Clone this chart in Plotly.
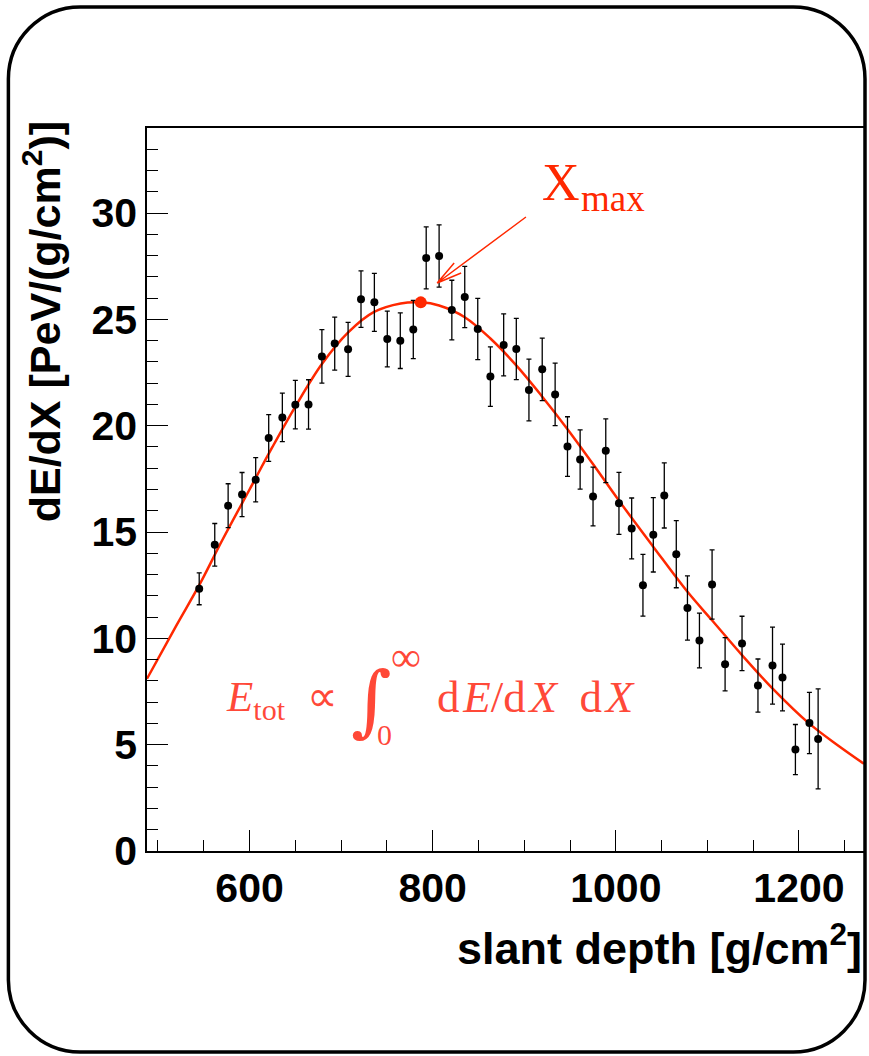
import plotly.graph_objects as go

# measured points (slant depth in g/cm2, dE/dX in PeV/(g/cm2))
depth = [545, 562, 576.6, 591.8, 606.7, 620.9, 635.8, 650, 664.4, 679,
         693, 707.6, 721.7, 736.3, 750.4, 764.6, 778.8, 792.9, 807, 820.9,
         835, 849.2, 863, 877.5, 891.3, 905.1, 919.6, 933.7, 947.2, 961,
         975.1, 989, 1003.4, 1017.3, 1029.6, 1040.9, 1052.9, 1066, 1078.2, 1091.3,
         1105.1, 1119.3, 1137.8, 1155.2, 1171.1, 1182, 1196.1, 1211.4, 1220.9]
dedx = [12.33, 14.40, 16.24, 16.76, 17.46, 19.42, 20.39, 20.99, 21.0, 23.26,
        23.86, 23.59, 25.95, 25.80, 24.08, 24.0, 24.52, 27.89, 27.98, 25.44,
        26.05, 24.55, 22.31, 23.80, 23.61, 21.68, 22.65, 21.47, 19.02, 18.41,
        16.67, 18.82, 16.35, 15.17, 12.50, 14.87, 16.72, 13.96, 11.43, 9.90,
        12.53, 8.78, 9.76, 7.78, 8.72, 8.16, 4.77, 6.02, 5.27]
dedx_err = [0.75, 1.0, 1.03, 1.04, 1.04, 1.1, 1.14, 1.14, 1.16, 1.26,
            1.25, 1.27, 1.33, 1.36, 1.31, 1.31, 1.37, 1.46, 1.46, 1.40,
            1.44, 1.44, 1.40, 1.46, 1.44, 1.45, 1.47, 1.47, 1.40, 1.39,
            1.38, 1.50, 1.46, 1.43, 1.45, 1.75, 1.53, 1.58, 1.51, 1.29,
            1.63, 1.25, 1.28, 1.25, 1.81, 1.57, 1.18, 1.44, 2.35]

# fitted profile
fit_depth = [488, 520, 545, 570, 600, 625, 650, 679, 708, 736, 765, 787,
             807, 835, 863, 891, 919, 947, 975, 1003, 1041, 1078, 1105,
             1138, 1171, 1211, 1243, 1271]
fit_dedx = [8.1, 10.6, 12.5, 14.6, 17.0, 19.0, 20.9, 22.9, 24.4, 25.35, 25.75, 25.8,
            25.65, 25.1, 24.1, 22.85, 21.4, 19.85, 18.2, 16.5, 14.3, 12.2, 10.85,
            9.2, 7.65, 6.0, 4.95, 4.1]

xmax_depth = [787]
xmax_dedx = [25.8]

RED = "#ff2800"
W, H = 869, 1056
L, R, T, B = 147, 3, 128, 205


def px(x, y):
    # pixel position on the page -> paper coordinates
    return (x - L) / (W - L - R), (H - B - y) / (H - T - B)


fig = go.Figure()

fig.add_trace(go.Scatter(
    x=fit_depth, y=fit_dedx, mode="lines",
    line=dict(color=RED, width=2.5, shape="spline", smoothing=1.0),
    hoverinfo="skip", showlegend=False,
))

fig.add_trace(go.Scatter(
    x=depth, y=dedx, mode="markers",
    marker=dict(color="black", size=8),
    error_y=dict(type="data", array=dedx_err, color="black", thickness=1.3, width=2.5),
    showlegend=False,
))

fig.add_trace(go.Scatter(
    x=xmax_depth, y=xmax_dedx, mode="markers",
    marker=dict(color=RED, size=12),
    showlegend=False,
))

# rounded border around the whole picture
x0, y0, x1, y1, r = 8, 7, 867, 1052, 72
k = 0.552 * r


def pt(x, y):
    a, b = px(x, y)
    return f"{a:.5f},{b:.5f}"


border = (
    f"M {pt(x0 + r, y0)} L {pt(x1 - r, y0)} "
    f"C {pt(x1 - r + k, y0)} {pt(x1, y0 + r - k)} {pt(x1, y0 + r)} "
    f"L {pt(x1, y1 - r)} "
    f"C {pt(x1, y1 - r + k)} {pt(x1 - r + k, y1)} {pt(x1 - r, y1)} "
    f"L {pt(x0 + r, y1)} "
    f"C {pt(x0 + r - k, y1)} {pt(x0, y1 - r + k)} {pt(x0, y1 - r)} "
    f"L {pt(x0, y0 + r)} "
    f"C {pt(x0, y0 + r - k)} {pt(x0 + r - k, y0)} {pt(x0 + r, y0)} Z"
)
fig.add_shape(type="path", xref="paper", yref="paper", path=border,
              line=dict(color="black", width=3.5))

# Xmax arrow (open head)
arrow = (f"M {pt(527, 217)} L {pt(438, 283)} "
         f"M {pt(455, 263)} L {pt(438, 283)} L {pt(462, 273)}")
fig.add_shape(type="path", xref="paper", yref="paper", path=arrow,
              line=dict(color=RED, width=1.5))

ann = []


def label(text, x, y, size, color, family, xanchor="left", yanchor="middle", angle=0):
    ax, ay = px(x, y)
    ann.append(dict(text=text, x=ax, y=ay, xref="paper", yref="paper",
                    xanchor=xanchor, yanchor=yanchor, showarrow=False,
                    textangle=angle, font=dict(size=size, color=color, family=family)))


serif = "Liberation Serif, Times New Roman, serif"
sans = "Liberation Sans, Arial, Helvetica, sans-serif"
fcol = "rgba(255,40,20,0.85)"

label("X", 541, 183, 52, RED, serif)
label("max", 580, 198, 37, RED, serif)
label("<i>E</i><sub>tot</sub>\u2002\u221d", 224, 700, 43, fcol, serif)
label("\u222b", 350, 700, 78, fcol, "DejaVu Serif")
label("\u221e", 390, 657, 42, fcol, serif)
label("0", 376, 734, 30, fcol, serif)
label("d\u200a<i>E</i>/d\u200a<i>X</i>\u2002d\u200a<i>X</i>", 436, 697, 45, fcol, serif)

label("<b>slant depth [g/cm<sup>2</sup>]</b>", 866, 945, 45, "black", sans, xanchor="right")
label("<b>dE/dX [PeV/(g/cm<sup>2</sup>)]</b>", 42, 322, 43, "black", sans,
      xanchor="center", angle=-90)

fig.update_layout(
    width=W, height=H,
    margin=dict(l=L, r=R, t=T, b=B),
    paper_bgcolor="white", plot_bgcolor="white",
    annotations=ann,
    xaxis=dict(
        range=[488, 1271], showgrid=False, zeroline=False,
        showline=True, mirror=True, linecolor="black", linewidth=1.5,
        ticks="inside", ticklen=21, tickwidth=1.2, tickcolor="black",
        tick0=600, dtick=200,
        minor=dict(ticks="inside", ticklen=11, tickwidth=1.2, tickcolor="black", dtick=50),
        tickfont=dict(family=sans, size=41, color="black", weight="bold"),
    ),
    yaxis=dict(
        range=[0, 34], showgrid=False, zeroline=False,
        showline=True, mirror=True, linecolor="black", linewidth=1.5,
        ticks="inside", ticklen=21, tickwidth=1.2, tickcolor="black",
        tick0=0, dtick=5,
        minor=dict(ticks="inside", ticklen=11, tickwidth=1.2, tickcolor="black", dtick=1),
        tickfont=dict(family=sans, size=41, color="black", weight="bold"),
    ),
)

fig.write_html(
    "out.html",
    config={"displayModeBar": False},
    post_script="document.body.style.margin='0';document.body.style.overflow='hidden';",
)
